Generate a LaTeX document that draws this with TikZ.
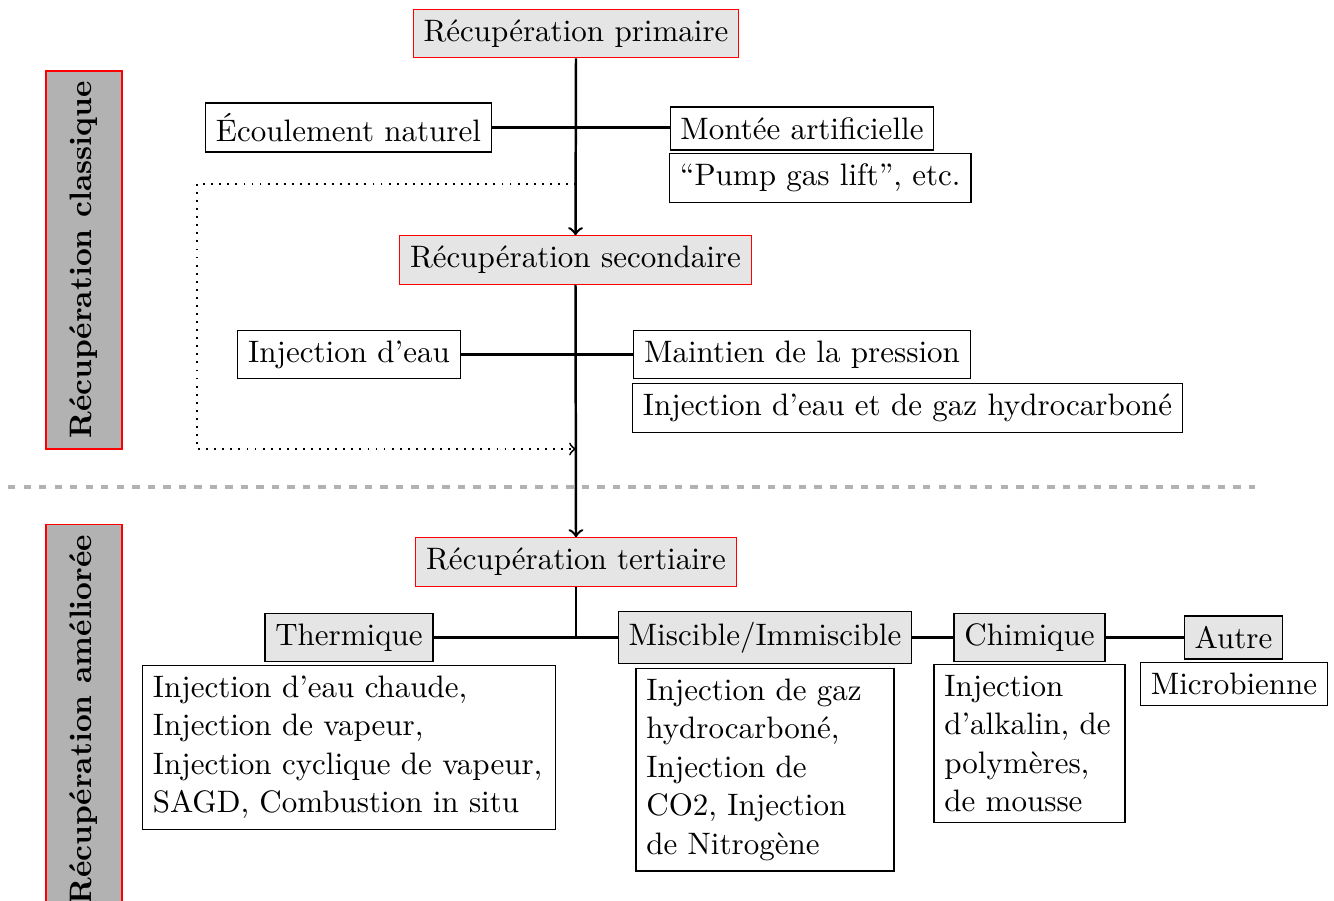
\documentclass[tikz,border=0pt]{standalone}
\usepackage{tikz}
\usetikzlibrary{arrows,calc}
\tikzstyle{tsMain} = [
    rectangle,
    draw=red,
    fill=gray!20
]
\tikzstyle{tsCat} = [
    rectangle,
    draw=black,
    fill=gray!20
]
\tikzstyle{tsPlain} = [
    rectangle,
    draw=black
]
\tikzstyle{tsBlock} = [
    tsPlain,
    align=left,
    anchor=north,
    font={\fontsize{10}{12.4}\selectfont}
]
\tikzstyle{tsSide} = [
    rectangle,
    draw=red,
    fill=gray!60,
    font=\bfseries,
    rotate=90,
    minimum height=24.5pt
]
\tikzstyle{tsLink} = [thick]
\tikzstyle{tsArrow} = [thick, ->]
\tikzstyle{tsLoop} = [semithick, dotted, ->]

\begin{document}
\begin{tikzpicture}[x=0.3224pt, y=-0.3224pt]

    \useasboundingbox (0,0) rectangle (1334,901);

    % classic recovery
    \node[tsSide] (sideClassic) at (84,260) {Récupération classique};

    \node[tsMain] (primaire) at (576,33.5) {Récupération primaire};
    \node[tsPlain] (ecoul) at (348.5,127.5) {Écoulement naturel};
    \node[tsPlain] (montee) at (802,128.5) {Montée artificielle};
    \node[tsPlain, anchor=north west] (pump) at (669,153) {“Pump gas lift”, etc.};

    \node[tsMain] (secondaire) at (575.5,260) {Récupération secondaire};
    \node[tsPlain] (injEau) at (349,354.5) {Injection d’eau};
    \node[tsPlain] (maintien) at (802,354.5) {Maintien de la pression};
    \node[tsPlain, anchor=north west] (injGaz) at (632,383) {Injection d’eau et de gaz hydrocarboné};

    \draw[tsLink] (ecoul.east) -- (ecoul.east -| montee.west);
    \draw[tsLink] (injEau.east) -- (injEau.east -| maintien.west);
    \draw[tsArrow] (primaire.south) -- (secondaire.north);

    \coordinate (loopTop) at (576,184);
    \coordinate (loopCorner) at (197,449);
    \coordinate (loopBot) at (576,449);
    \draw[tsLoop] (loopTop) -| (loopCorner) -- (loopBot);

    % separator
    \coordinate (sepL) at (8,487);
    \coordinate (sepR) at (1255,487);
    \draw[gray!60, line width=1pt, dash pattern=on 2.4pt off 2.6pt] (sepL) -- (sepR);

    % enhanced recovery
    \node[tsSide, anchor=east] (sideEnhanced) at (84,524) {Récupération améliorée};

    \node[tsMain] (tertiaire) at (576,562) {Récupération tertiaire};
    \draw[tsArrow] (secondaire.south) -- (tertiaire.north);

    \node[tsCat] (thermique) at (349,637.5) {Thermique};
    \node[tsCat] (miscible) at (765,637.5) {Miscible/Immiscible};
    \node[tsCat] (chimique) at (1029.5,637.5) {Chimique};
    \node[tsCat] (autre) at (1233.5,637.5) {Autre};

    \node[tsBlock, text width=126.5pt] (thermList) at (349,665)
        {Injection d’eau chaude,\\ Injection de vapeur,\\ Injection cyclique de vapeur,\\ SAGD, Combustion in situ};
    \node[tsBlock, text width=76.5pt] (miscList) at (765,668)
        {Injection de gaz\\ hydrocarboné,\\ Injection de\\ CO2, Injection\\ de Nitrogène};
    \node[tsBlock, text width=54.9pt] (chimList) at (1029.5,664)
        {Injection\\ d’alkalin, de\\ polymères,\\ de mousse};
    \node[tsBlock] (autreList) at (1234,662) {Microbienne};

    \draw[tsLink] (tertiaire.south) -- (tertiaire.south |- thermique.east);
    \draw[tsLink] (thermique.east) -- (miscible.west);
    \draw[tsLink] (miscible.east) -- (chimique.west);
    \draw[tsLink] (chimique.east) -- (autre.west);

\end{tikzpicture}
\end{document}
